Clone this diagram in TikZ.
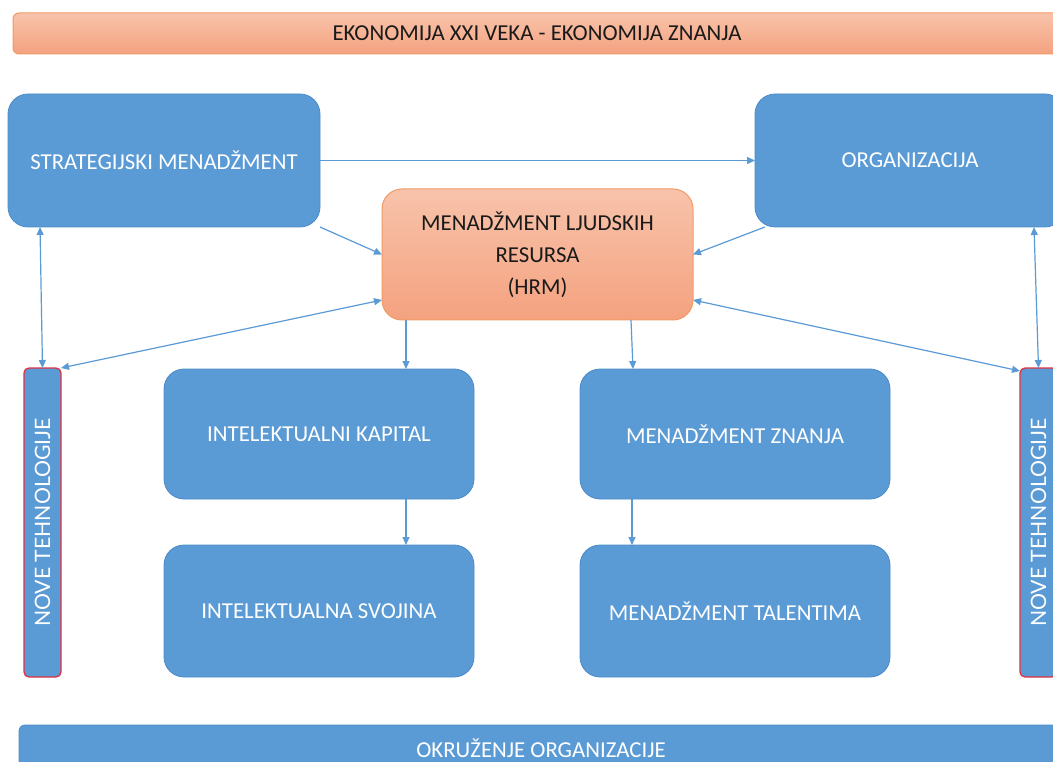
\documentclass[tikz,border=0pt]{standalone}
\usepackage{fontspec}
\setmainfont{Carlito}
\newfontfamily\latofont{Lato}
\usetikzlibrary{arrows.meta,calc}
\definecolor{boxblue}{HTML}{5B9BD5}
\definecolor{boxedge}{HTML}{4C8BC8}
\definecolor{salmontop}{HTML}{F8C3AB}
\definecolor{salmonbot}{HTML}{F4A27F}
\definecolor{salmonedge}{HTML}{F09A66}
\definecolor{techred}{HTML}{DD3340}
\definecolor{linkblue}{HTML}{5B9BD5}
\definecolor{inkdark}{HTML}{1A1A1A}

\begin{document}
\begin{tikzpicture}[x=1pt,y=-1pt,
  every node/.style={inner sep=0pt, outer sep=0pt, align=center},
  boxfont/.style={font=\fontsize{22.8}{32}\selectfont},
  bluebox/.style={rectangle, rounded corners=20pt, fill=boxblue, draw=boxedge,
    line width=0.8pt, text=white, boxfont},
  hrmbox/.style={rectangle, rounded corners=20pt, top color=salmontop,
    bottom color=salmonbot, draw=salmonedge, line width=1pt, text=inkdark, boxfont},
  topbanner/.style={rectangle, rounded corners=6pt, top color=salmontop,
    bottom color=salmonbot, draw=salmonedge, line width=1pt, text=inkdark, boxfont},
  bottombanner/.style={rectangle, rounded corners=6pt, fill=boxblue, draw=boxedge,
    line width=0.8pt, text=white, boxfont},
  techbar/.style={rectangle, rounded corners=5pt, fill=boxblue, draw=techred,
    line width=1.3pt},
  techlabel/.style={rotate=90, text=white, font=\latofont\fontsize{21.2}{26}\selectfont},
  tip/.tip={Triangle[length=8pt,width=7pt]},
  link/.style={draw=linkblue, line width=1.2pt, -tip},
  duplex/.style={draw=linkblue, line width=1.2pt, tip-tip}]

\clip (0,0) rectangle (1053,762);
\fill[white] (0,0) rectangle (1053,762);

% banners
\node[topbanner, minimum width=1048pt, minimum height=41pt] (economy) at (537,33.5)
  {EKONOMIJA XXI VEKA - EKONOMIJA ZNANJA};
\node[bottombanner, minimum width=1044pt, minimum height=46pt] (environment) at (541,748)
  {OKRUŽENJE ORGANIZACIJE};

% upper row
\node[bluebox, minimum width=312pt, minimum height=133pt] (strat) at (164,160.5)
  {STRATEGIJSKI MENADŽMENT};
\node[bluebox, minimum width=310pt, minimum height=133pt] (org) at (910,160.5)
  {ORGANIZACIJA};
\node[hrmbox, minimum width=311pt, minimum height=131pt] (hrm) at (537.5,254.5)
  {MENADŽMENT LJUDSKIH\\RESURSA\\(HRM)};

% middle and lower rows
\node[bluebox, minimum width=310pt, minimum height=130pt] (capital) at (319,434)
  {INTELEKTUALNI KAPITAL};
\node[bluebox, minimum width=310pt, minimum height=130pt] (knowledge) at (735,434)
  {MENADŽMENT ZNANJA};
\node[bluebox, minimum width=310pt, minimum height=132pt] (property) at (319,611)
  {INTELEKTUALNA SVOJINA};
\node[bluebox, minimum width=310pt, minimum height=132pt] (talent) at (735,611)
  {MENADŽMENT TALENTIMA};

% side bars
\node[techbar, minimum width=37pt, minimum height=309pt] (techleft) at (42.5,522.5) {};
\node[techlabel] at (techleft.center) {NOVE TEHNOLOGIJE};
\node[techbar, minimum width=37pt, minimum height=309pt] (techright) at (1038.5,522.5) {};
\node[techlabel] at (techright.center) {NOVE TEHNOLOGIJE};

% connectors
\draw[link] (strat.east) -- (org.west);
\draw[link] (strat.south east) -- (hrm.west);
\draw[link] ([xshift=10pt]org.south west) -- (hrm.east);
\draw[duplex] ([yshift=20pt]hrm.south west) -- (techleft.north east);
\draw[duplex] ([yshift=20pt]hrm.south east) -- ([yshift=-3pt]techright.north west);
\draw[duplex] ([xshift=32pt]strat.south west) -- (techleft.north);
\draw[duplex] ([xshift=-31pt]org.south east) -- (techright.north);

\coordinate (capin) at ([xshift=24pt]hrm.south west);
\draw[link] (capin) -- (capin |- capital.north);
\draw[link] ([xshift=-62pt]hrm.south east) -- ([xshift=53pt]knowledge.north west);
\coordinate (propin) at ([xshift=242pt]capital.south west);
\draw[link] (propin) -- (propin |- property.north);
\coordinate (talin) at ([xshift=52pt]knowledge.south west);
\draw[link] (talin) -- (talin |- talent.north);
\end{tikzpicture}
\end{document}
